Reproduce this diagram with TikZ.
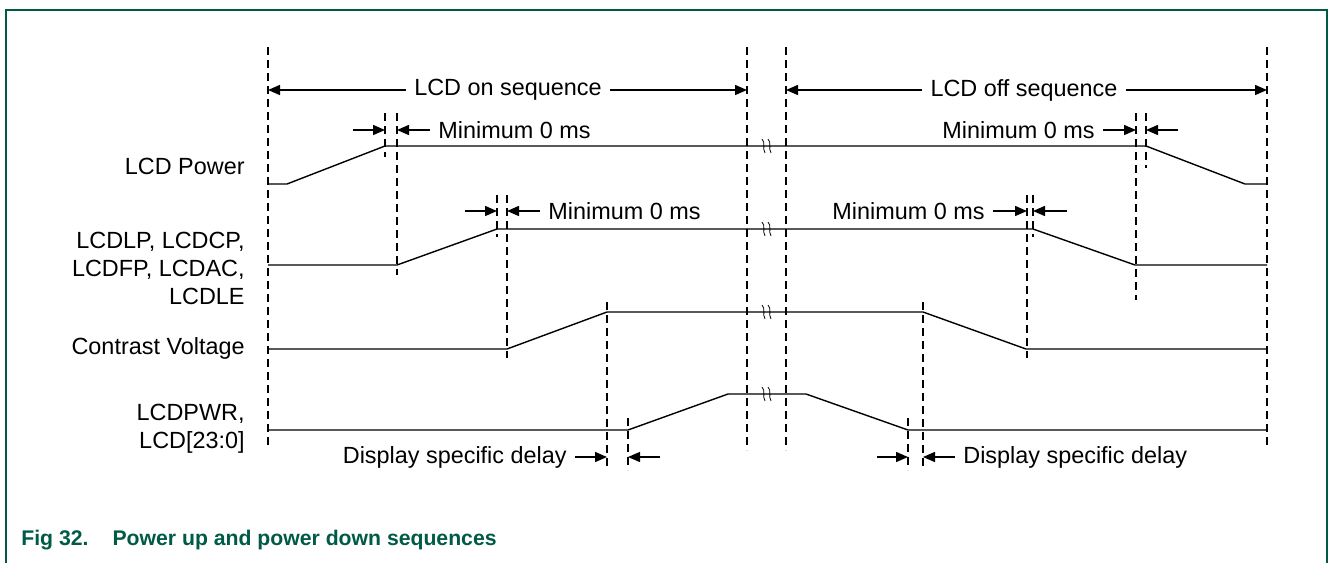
\documentclass[tikz,border=0pt]{standalone}
\usepackage{fontspec}
\setmainfont{Liberation Sans}
\usetikzlibrary{arrows.meta}
\definecolor{figgreen}{RGB}{0,90,70}
% small break mark on a signal line
\newcommand{\brkmark}[2]{%
  \draw[line width=0.4pt] (#1-5,#2-7) .. controls (#1-1,#2-3) and (#1-5,#2+2) .. (#1-2,#2+7);
  \draw[line width=0.4pt] (#1+1,#2-7) .. controls (#1+5,#2-3) and (#1+1,#2+2) .. (#1+4,#2+7);
}

\begin{document}
\begin{tikzpicture}[x=0.5pt, y=-0.5pt,
    font=\fontsize{11.7}{14}\selectfont,
    sig/.style={line width=0.7pt},
    guide/.style={dash pattern=on 4pt off 2.5pt, line width=0.65pt},
    dim/.style={-{Triangle[length=6pt,width=5pt]}, line width=0.75pt},
    lbl/.style={inner sep=4pt}]
    \useasboundingbox (0,0) rectangle (1330,563);
    \draw [figgreen, line width=1pt] (6,563) -- (6,10) -- (1327,10) -- (1327,563);

    % signal names
    \node [lbl, anchor=east] (pwr) at (253,166) {LCD Power};
    \node [lbl, anchor=east, align=right] (ctl) at (253,268) {LCDLP, LCDCP,\\LCDFP, LCDAC,\\LCDLE};
    \node [lbl, anchor=east] (con) at (253,348) {Contrast Voltage};
    \node [lbl, anchor=east, align=right] (dat) at (253,429) {LCDPWR,\\LCD[23:0]};

    % guide lines
    \begin{scope}[guide]
    \draw (268,47) -- (268,448);
    \draw (747,47) -- (747,450);
    \draw (786,47) -- (786,450);
    \draw (1267,47) -- (1267,448);
    \draw (385,113) -- (385,157);
    \draw (397,113) -- (397,275);
    \draw (1136,113) -- (1136,300);
    \draw (1146,113) -- (1146,168);
    \draw (497,195) -- (497,237);
    \draw (507,195) -- (507,358);
    \draw (1027,195) -- (1027,358);
    \draw (1033,195) -- (1033,237);
    \draw (607,302) -- (607,470);
    \draw (923,302) -- (923,470);
    \draw (628,418) -- (628,470);
    \draw (908,418) -- (908,470);
    \end{scope}

    % signals
    \begin{scope}[sig]
    \draw (268,184) -- (287,184) -- (385,146) -- (1146,146) -- (1245,184) -- (1267,184);
    \draw (268,265) -- (397,265) -- (497,229) -- (1033,229) -- (1135,265) -- (1267,265);
    \draw (268,349) -- (507,349) -- (607,312) -- (923,312) -- (1026,349) -- (1267,349);
    \draw (268,430) -- (628,430) -- (728,394) -- (806,394) -- (908,430) -- (1267,430);
    \end{scope}
    \brkmark{767}{146}
    \brkmark{767}{229}
    \brkmark{767}{312}
    \brkmark{767}{394}

    % sequences
    \node [lbl] (onseq) at (508,90) {LCD on sequence};
    \draw [dim] (onseq.west) -- (268,90);
    \draw [dim] (onseq.east) -- (747,90);
    \node [lbl] (offseq) at (1024,90) {LCD off sequence};
    \draw [dim] (offseq.west) -- (786,90);
    \draw [dim] (offseq.east) -- (1267,90);

    % minimum delays
    \node [lbl, anchor=west] (min1) at (430,130) {Minimum 0 ms};
    \draw [dim] (353,130) -- (385,130);
    \draw [dim] (min1.west) -- (397,130);
    \node [lbl, anchor=east] (min2) at (1103,130) {Minimum 0 ms};
    \draw [dim] (min2.east) -- (1136,130);
    \draw [dim] (1178,130) -- (1146,130);
    \node [lbl, anchor=west] (min3) at (540,211) {Minimum 0 ms};
    \draw [dim] (465,211) -- (497,211);
    \draw [dim] (min3.west) -- (507,211);
    \node [lbl, anchor=east] (min4) at (993,211) {Minimum 0 ms};
    \draw [dim] (min4.east) -- (1027,211);
    \draw [dim] (1067,211) -- (1033,211);

    % display delays
    \node [lbl, anchor=east] (dly1) at (575,457) {Display specific delay};
    \draw [dim] (dly1.east) -- (607,457);
    \draw [dim] (660,457) -- (628,457);
    \node [lbl, anchor=west] (dly2) at (955,457) {Display specific delay};
    \draw [dim] (877,457) -- (908,457);
    \draw [dim] (dly2.west) -- (923,457);

    \node [anchor=base west, inner sep=0pt, text=figgreen, font=\fontsize{10.6}{13}\bfseries] (cap) at (21,545) {Fig 32.\hspace{12pt}Power up and power down sequences};
\end{tikzpicture}
\end{document}
